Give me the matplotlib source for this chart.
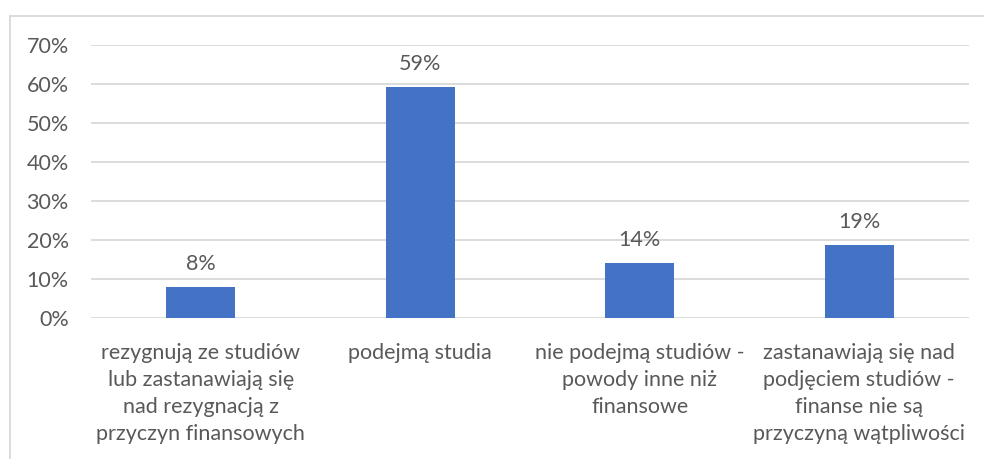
import matplotlib.pyplot as plt
from matplotlib.lines import Line2D
from matplotlib.ticker import FuncFormatter, MultipleLocator

# data
categories = [
    "rezygnują ze studiów\nlub zastanawiają się\nnad rezygnacją z\nprzyczyn finansowych",
    "podejmą studia",
    "nie podejmą studiów -\npowody inne niż\nfinansowe",
    "zastanawiają się nad\npodjęciem studiów -\nfinanse nie są\nprzyczyną wątpliwości",
]
shares = [0.08, 0.592, 0.141, 0.187]

BLUE = "#4472C4"
TEXT = "#595959"
GRID = "#D9D9D9"

plt.rcParams["font.family"] = ["Lato", "DejaVu Sans"]

W, H = 984, 459
fig = plt.figure(figsize=(W / 100, H / 100), dpi=100)
ax = fig.add_axes([91 / W, 1 - 318 / H, (969 - 91) / W, (318 - 45) / H])

x = range(len(categories))
ax.bar(x, shares, width=0.315, color=BLUE, zorder=3)
for xi, v in zip(x, shares):
    ax.text(xi, v + 0.033, f"{v:.0%}", ha="center", va="bottom",
            fontsize=15.5, color=TEXT)

ax.set_xlim(-0.5, len(categories) - 0.5)
ax.set_ylim(0, 0.70)
ax.yaxis.set_major_locator(MultipleLocator(0.1))
ax.yaxis.set_major_formatter(FuncFormatter(lambda v, _: f"{v:.0%}"))
ax.grid(axis="y", color=GRID, linewidth=1.3, zorder=0)
for s in ax.spines.values():
    s.set_visible(False)
ax.tick_params(axis="y", length=0, pad=16, labelsize=15.5, labelcolor=TEXT)
ax.tick_params(axis="x", length=0, pad=18, labelsize=15.5, labelcolor=TEXT)
ax.set_xticks(list(x))
ax.set_xticklabels(categories, linespacing=1.43, va="top")

# outer chart frame (top and left edges visible)
fig.add_artist(Line2D([10 / W, 10 / W], [0, 1 - 16 / H],
                      transform=fig.transFigure, color=GRID, linewidth=1.3))
fig.add_artist(Line2D([10 / W, 1], [1 - 16 / H, 1 - 16 / H],
                      transform=fig.transFigure, color=GRID, linewidth=1.3))

fig.savefig("out.png", dpi=100, facecolor="white")
